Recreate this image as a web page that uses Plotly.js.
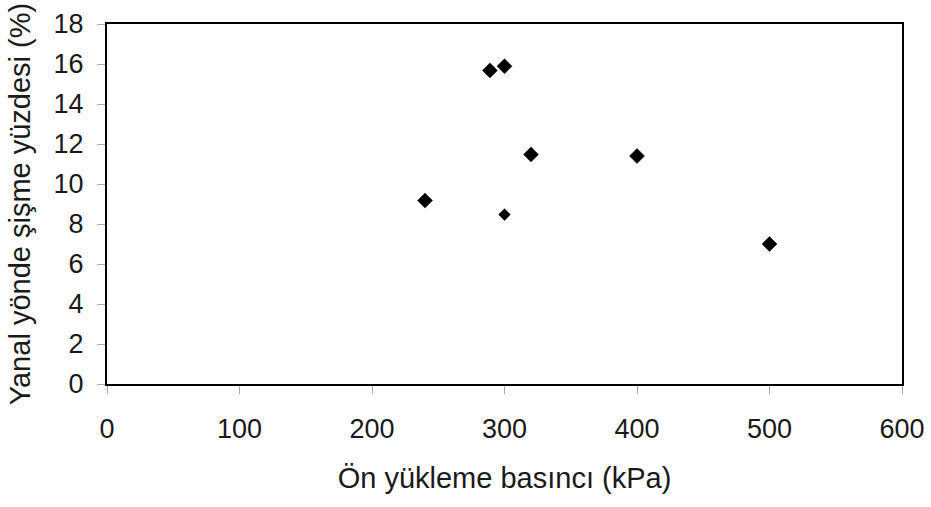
<!DOCTYPE html>
<html>
<head>
<meta charset="utf-8">
<script src="https://cdn.plot.ly/plotly-3.0.1.min.js"></script>
<style>html,body{margin:0;padding:0;background:#fff;}#chart{width:931px;height:507px;}</style>
</head>
<body>
<div id="chart"></div>
<script>
const preloadKPa = [240, 289, 300, 320, 300, 400, 500];
const swellPct = [9.17, 15.68, 15.89, 11.48, 8.47, 11.4, 7.0];
const markerSizes = [11.5, 11.5, 11.5, 11.5, 9, 11.5, 11.5];
const xTitle = "Ön yükleme basıncı (kPa)";
const yTitle = "Yanal yönde şişme yüzdesi (%)";

const trace = {
  x: preloadKPa,
  y: swellPct,
  type: "scatter",
  mode: "markers",
  marker: {symbol: "diamond", color: "#000", opacity: 1, size: markerSizes, line: {width: 0.5, color: "#000"}},
  hoverinfo: "x+y"
};

const fontFam = "Liberation Sans, Arial, sans-serif";
const layout = {
  width: 931, height: 507,
  margin: {l: 106.5, r: 29, t: 23.5, b: 123},
  paper_bgcolor: "#fff", plot_bgcolor: "#fff",
  showlegend: false,
  font: {family: fontFam, size: 27, color: "#1a1a1a"},
  xaxis: {
    range: [0, 600], dtick: 100, tick0: 0,
    showgrid: false, zeroline: false,
    showline: true, linecolor: "#000", linewidth: 2, mirror: true,
    ticks: "outside", ticklen: 8, tickcolor: "#aaa", tickwidth: 1,
    ticklabelstandoff: 12,
    tickfont: {family: fontFam, size: 27, color: "#1a1a1a"},
    title: {text: xTitle, font: {family: fontFam, size: 29, color: "#1a1a1a"}, standoff: 24}
  },
  yaxis: {
    range: [0, 18], dtick: 2, tick0: 0,
    showgrid: false, zeroline: false,
    showline: true, linecolor: "#000", linewidth: 2, mirror: true,
    ticks: "outside", ticklen: 8, tickcolor: "#aaa", tickwidth: 1,
    ticklabelstandoff: 8,
    tickfont: {family: fontFam, size: 27, color: "#1a1a1a"},
    title: {text: yTitle, font: {family: fontFam, size: 29, color: "#1a1a1a"}, standoff: 14}
  }
};

Plotly.newPlot("chart", [trace], layout, {displayModeBar: false, staticPlot: true});
</script>
</body>
</html>
